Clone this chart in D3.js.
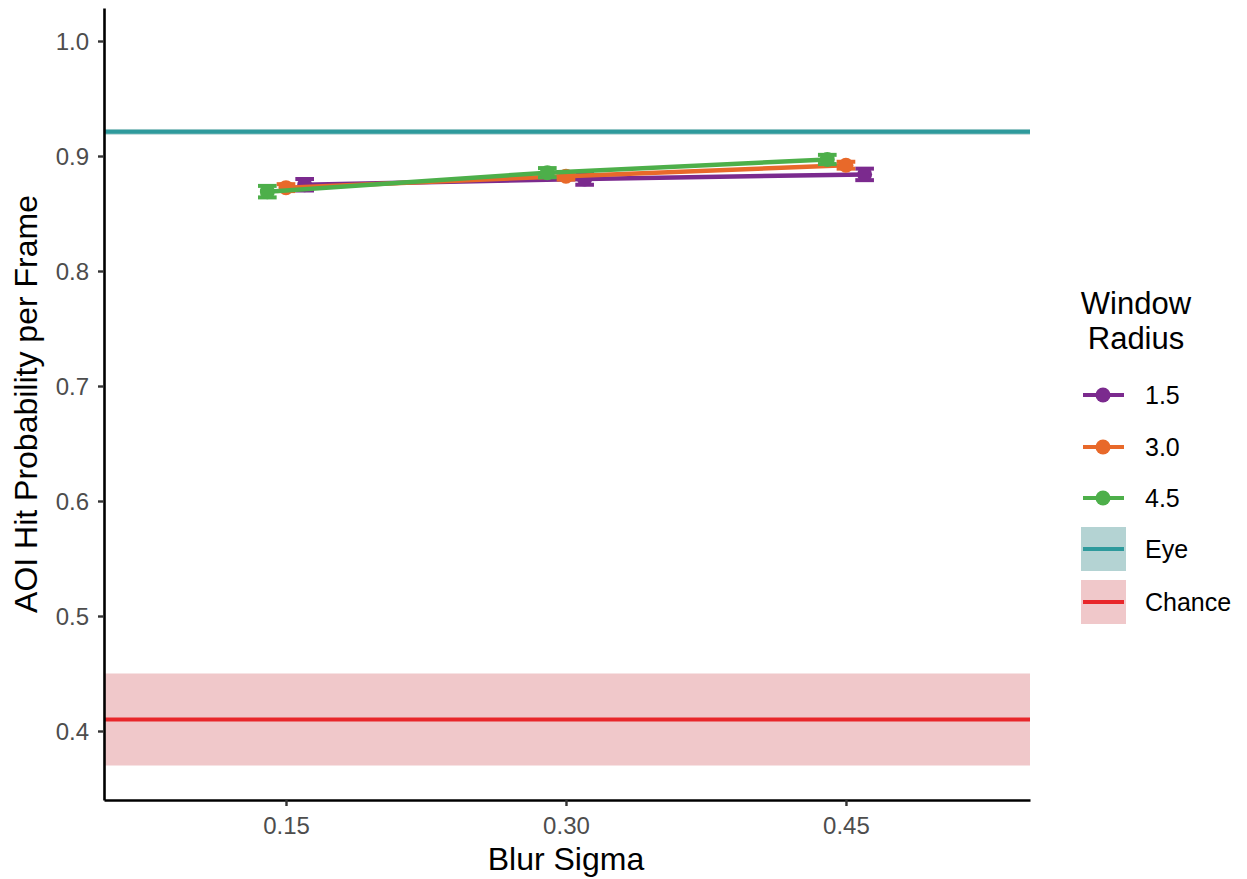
<!DOCTYPE html>
<html>
<head>
  <title>AOI Hit Probability</title>
  <style>
    body { margin: 0; background: #fff; }
    svg { font-family: "Liberation Sans", Arial, sans-serif; }
  </style>
</head>
<body>
  <svg id="main" width="1247" height="879"></svg>

  <script src="https://cdn.jsdelivr.net/npm/d3@7/dist/d3.min.js"></script>
  <script>
    // data
    const sigmas = [0.15, 0.30, 0.45]
    const radii = ['1.5', '3.0', '4.5']
    const dodge = [0.01, 0, -0.01]
    const meanR15 = [0.875, 0.880, 0.884]
    const meanR30 = [0.8725, 0.8825, 0.892]
    const meanR45 = [0.869, 0.8855, 0.897]
    const errR15 = [0.005, 0.005, 0.005]
    const errR30 = [0.003, 0.003, 0.003]
    const errR45 = [0.005, 0.004, 0.004]
    const eyeLevel = 0.921
    const eyeBand = [0.9185, 0.9235]
    const chanceLevel = 0.41
    const chanceBand = [0.37, 0.45]
    const yTicks = [0.4, 0.5, 0.6, 0.7, 0.8, 0.9, 1.0]

    const colors = { '1.5': '#7b2a8e', '3.0': '#e8692a', '4.5': '#4daf4a' }
    const eyeColor = '#2e9a9c'
    const chanceColor = '#e8262a'

    const series = [
      { name: '1.5', mean: meanR15, err: errR15, off: dodge[0] },
      { name: '3.0', mean: meanR30, err: errR30, off: dodge[1] },
      { name: '4.5', mean: meanR45, err: errR45, off: dodge[2] }
    ]

    const svg = d3.select('#main')
    const margin = { top: 8, left: 104, right: 217, bottom: 79 }
    const width = +svg.attr('width')
    const height = +svg.attr('height')
    const innerWidth = width - margin.left - margin.right
    const innerHeight = height - margin.top - margin.bottom

    const chart = svg.append('g')
      .attr('transform', `translate(${margin.left},${margin.top})`)

    const xScale = d3.scaleLinear().domain([0.0525, 0.5486]).range([0, innerWidth])
    const yScale = d3.scaleLinear().domain([0.34, 1.0287]).range([innerHeight, 0])

    // ribbons + reference lines
    chart.append('rect')
      .attr('x', 0).attr('width', innerWidth)
      .attr('y', yScale(chanceBand[1]))
      .attr('height', yScale(chanceBand[0]) - yScale(chanceBand[1]))
      .attr('fill', '#f0c8ca')
    chart.append('rect')
      .attr('x', 0).attr('width', innerWidth)
      .attr('y', yScale(eyeBand[1]))
      .attr('height', yScale(eyeBand[0]) - yScale(eyeBand[1]))
      .attr('fill', '#b4d3d3')
    chart.append('line')
      .attr('x1', 0).attr('x2', innerWidth)
      .attr('y1', yScale(chanceLevel)).attr('y2', yScale(chanceLevel))
      .attr('stroke', chanceColor).attr('stroke-width', 4)
    chart.append('line')
      .attr('x1', 0).attr('x2', innerWidth)
      .attr('y1', yScale(eyeLevel)).attr('y2', yScale(eyeLevel))
      .attr('stroke', eyeColor).attr('stroke-width', 4)

    const line = d3.line()
      .x(d => xScale(d.x))
      .y(d => yScale(d.v))

    series.forEach(s => {
      const pts = s.mean.map((v, i) => ({ v, e: s.err[i], x: sigmas[i] + s.off }))
      const g = chart.append('g')
      g.append('path')
        .datum(pts)
        .attr('fill', 'none')
        .attr('stroke', colors[s.name])
        .attr('stroke-width', 4.5)
        .attr('d', line)
      const capHalf = (xScale(0.005) - xScale(0))
      const eb = g.selectAll('.eb').data(pts).enter().append('g')
      eb.append('line')
        .attr('x1', d => xScale(d.x)).attr('x2', d => xScale(d.x))
        .attr('y1', d => yScale(d.v - d.e)).attr('y2', d => yScale(d.v + d.e))
        .attr('stroke', colors[s.name]).attr('stroke-width', 4)
      ;[-1, 1].forEach(sgn => {
        eb.append('line')
          .attr('x1', d => xScale(d.x) - capHalf).attr('x2', d => xScale(d.x) + capHalf)
          .attr('y1', d => yScale(d.v + sgn * d.e)).attr('y2', d => yScale(d.v + sgn * d.e))
          .attr('stroke', colors[s.name]).attr('stroke-width', 4)
      })
      g.selectAll('circle').data(pts).enter().append('circle')
        .attr('cx', d => xScale(d.x)).attr('cy', d => yScale(d.v))
        .attr('r', 7.5).attr('fill', colors[s.name])
    })

    // axes
    const xAxis = d3.axisBottom(xScale).tickValues(sigmas).tickFormat(d3.format('.2f')).tickSize(6).tickSizeOuter(0)
    const yAxis = d3.axisLeft(yScale).tickValues(yTicks).tickFormat(d3.format('.1f')).tickSize(6).tickSizeOuter(0)

    const gx = chart.append('g').attr('transform', `translate(0,${innerHeight})`).call(xAxis)
    const gy = chart.append('g').call(yAxis)
    ;[gx, gy].forEach(g => {
      g.select('.domain').attr('stroke', '#000').attr('stroke-width', 2.6)
      g.selectAll('.tick line').attr('stroke', '#333').attr('stroke-width', 2.4)
      g.selectAll('.tick text').attr('font-size', '24px').attr('fill', '#4d4d4d')
        .attr('font-family', '"Liberation Sans", Arial, sans-serif')
    })
    gx.selectAll('.tick text').attr('y', 12).attr('dy', '0.9em')
    gy.selectAll('.tick text').attr('x', -15).attr('dy', '0.35em')

    svg.append('text').text('Blur Sigma')
      .attr('x', margin.left + xScale(0.30)).attr('y', 870)
      .attr('text-anchor', 'middle').attr('font-size', '32px')
    svg.append('text').text('AOI Hit Probability per Frame')
      .attr('transform', `translate(37,${margin.top + innerHeight / 2}) rotate(-90)`)
      .attr('text-anchor', 'middle').attr('font-size', '32px')

    // legend
    const lg = svg.append('g')
    lg.append('text').text('Window').attr('x', 1136).attr('y', 314)
      .attr('text-anchor', 'middle').attr('font-size', '31px')
    lg.append('text').text('Radius').attr('x', 1136).attr('y', 349)
      .attr('text-anchor', 'middle').attr('font-size', '31px')

    const keyY = [395, 447, 498, 549, 602]
    radii.forEach((r, i) => {
      lg.append('line').attr('x1', 1083).attr('x2', 1124)
        .attr('y1', keyY[i]).attr('y2', keyY[i])
        .attr('stroke', colors[r]).attr('stroke-width', 4)
      lg.append('circle').attr('cx', 1103).attr('cy', keyY[i]).attr('r', 7.5).attr('fill', colors[r])
      lg.append('text').text(r).attr('x', 1145).attr('y', keyY[i] + 9).attr('font-size', '25px')
    })
    const refKeys = [
      { label: 'Eye', color: eyeColor, fill: '#b4d3d3' },
      { label: 'Chance', color: chanceColor, fill: '#f0c8ca' }
    ]
    refKeys.forEach((k, j) => {
      const yy = keyY[3 + j]
      lg.append('rect').attr('x', 1081).attr('y', yy - 22).attr('width', 45).attr('height', 44).attr('fill', k.fill)
      lg.append('line').attr('x1', 1083).attr('x2', 1124)
        .attr('y1', yy).attr('y2', yy)
        .attr('stroke', k.color).attr('stroke-width', 4)
      lg.append('text').text(k.label).attr('x', 1145).attr('y', yy + 9).attr('font-size', '25px')
    })
  </script>
</body>
</html>
